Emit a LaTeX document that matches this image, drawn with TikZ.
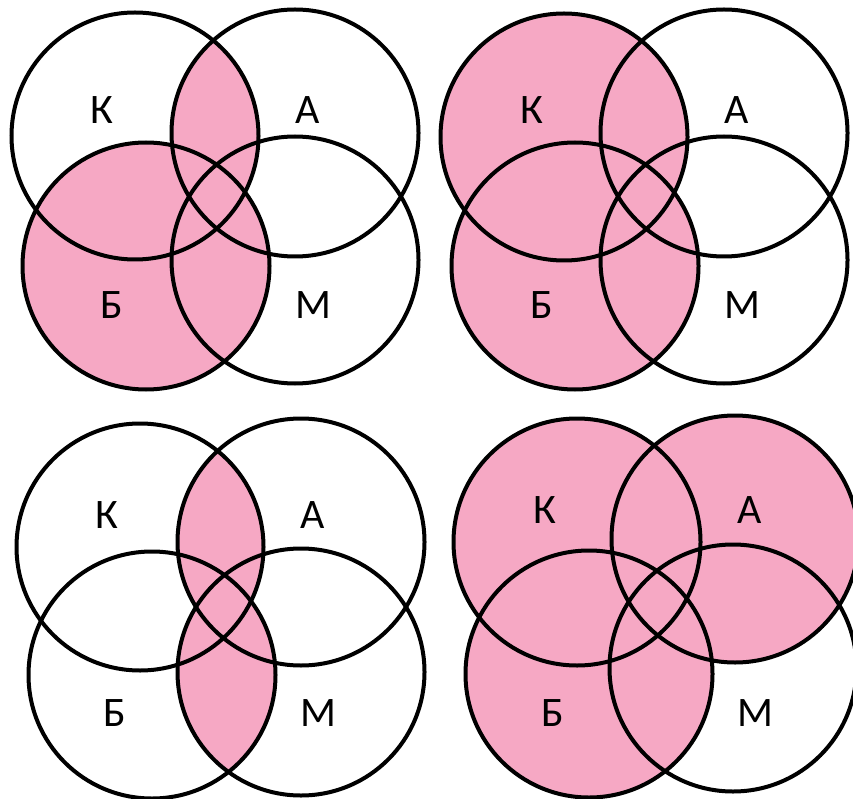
\documentclass[tikz,border=0pt]{standalone}
\usepackage{fontspec}
\setmainfont{Carlito}
\usepackage{tikz}
\usetikzlibrary{positioning}
\definecolor{vennpink}{RGB}{246,168,196}

\begin{document}
\begin{tikzpicture}[x=1pt, y=-1pt,
  ring/.style={draw=black, line width=4pt},
  part/.style={fill=vennpink},
  setlabel/.style={font=\fontsize{42}{46}\selectfont, inner sep=0pt}
]
  \useasboundingbox (0,0) rectangle (853,799);

  % top left: (K and A) or B
  \coordinate (k1) at (135,136);
  \coordinate (a1) at (295,133);
  \coordinate (b1) at (146,266);
  \coordinate (m1) at (295,260);
  \fill[part] (b1) circle[radius=123.5pt];
  \begin{scope}
    \clip (k1) circle[radius=123.5pt];
    \fill[part] (a1) circle[radius=123.5pt];
  \end{scope}
  \foreach \c in {k1,a1,b1,m1}
    \draw[ring] (\c) circle[radius=123.5pt];
  \node[setlabel] (lk1) at (102,110) {К};
  \node[setlabel] (la1) at (308,110) {А};
  \node[setlabel] (lb1) at (112,305) {Б};
  \node[setlabel] (lm1) at (313,305) {М};

  % top right: K or B
  \coordinate (k2) at (564,137);
  \coordinate (a2) at (724,133);
  \coordinate (b2) at (575,266);
  \coordinate (m2) at (724,260);
  \fill[part] (k2) circle[radius=123.5pt];
  \fill[part] (b2) circle[radius=123.5pt];
  \foreach \c in {k2,a2,b2,m2}
    \draw[ring] (\c) circle[radius=123.5pt];
  \node[setlabel] (lk2) at (532,110) {К};
  \node[setlabel] (la2) at (737,110) {А};
  \node[setlabel] (lb2) at (542,305) {Б};
  \node[setlabel] (lm2) at (742,305) {М};

  % bottom left: (K and A) or (B and M)
  \coordinate (k3) at (140,547);
  \coordinate (a3) at (301,542);
  \coordinate (b3) at (152,675);
  \coordinate (m3) at (301,672);
  \begin{scope}
    \clip (k3) circle[radius=123.5pt];
    \fill[part] (a3) circle[radius=123.5pt];
  \end{scope}
  \begin{scope}
    \clip (b3) circle[radius=123.5pt];
    \fill[part] (m3) circle[radius=123.5pt];
  \end{scope}
  \foreach \c in {k3,a3,b3,m3}
    \draw[ring] (\c) circle[radius=123.5pt];
  \node[setlabel] (lk3) at (107,515) {К};
  \node[setlabel] (la3) at (313,515) {А};
  \node[setlabel] (lb3) at (115,713) {Б};
  \node[setlabel] (lm3) at (318,713) {М};

  % bottom right: K or A or B
  \coordinate (k4) at (577,542);
  \coordinate (a4) at (735,539);
  \coordinate (b4) at (589,674);
  \coordinate (m4) at (733,668);
  \fill[part] (k4) circle[radius=123.5pt];
  \fill[part] (a4) circle[radius=123.5pt];
  \fill[part] (b4) circle[radius=123.5pt];
  \foreach \c in {k4,a4,b4,m4}
    \draw[ring] (\c) circle[radius=123.5pt];
  \node[setlabel] (lk4) at (545,510) {К};
  \node[setlabel] (la4) at (750,510) {А};
  \node[setlabel] (lb4) at (553,713) {Б};
  \node[setlabel] (lm4) at (755,713) {М};
\end{tikzpicture}
\end{document}
